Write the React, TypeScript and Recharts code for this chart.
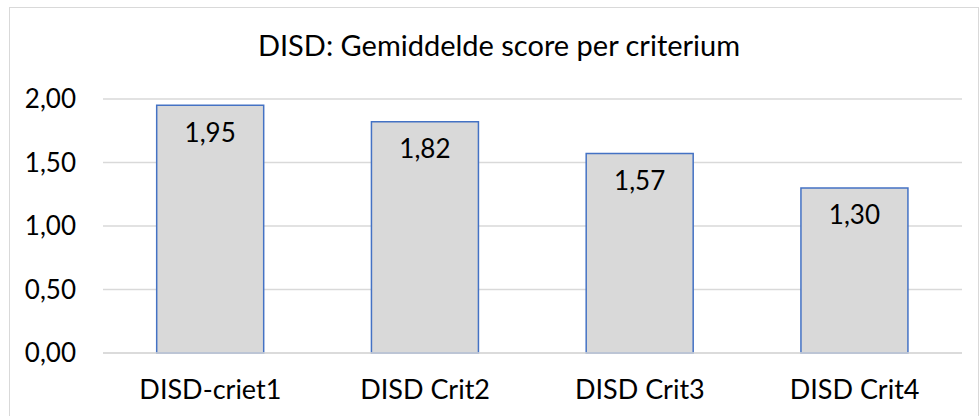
import React from "react"
import { BarChart, Bar, XAxis, YAxis, CartesianGrid, LabelList } from "recharts"

const categories = ["DISD-criet1", "DISD Crit2", "DISD Crit3", "DISD Crit4"]
const scores = [1.95, 1.82, 1.57, 1.3]
const yTicks = [0, 0.5, 1, 1.5, 2]

const data = categories.map((name, i) => ({ name, score: scores[i] }))

const fmt = (v: number) => v.toFixed(2).replace(".", ",")
const FONT = "'Lato', 'Open Sans', sans-serif"

export default function App() {
  return (
    <div
      style={{
        position: "absolute",
        left: 0,
        top: 0,
        width: 979,
        height: 416,
        background: "#fff",
        overflow: "hidden",
        fontFamily: FONT,
      }}
    >
      <div
        style={{
          position: "absolute",
          left: 9,
          top: 7,
          width: 970,
          height: 420,
          border: "1.5px solid #d9d9d9",
          boxSizing: "border-box",
        }}
      />
      <div
        style={{
          position: "absolute",
          left: 0,
          width: 998,
          top: 27,
          textAlign: "center",
          fontSize: 29,
          color: "#000",
        }}
      >
        DISD: Gemiddelde score per criterium
      </div>
      <div style={{ position: "absolute", left: 0, top: 0 }}>
        <BarChart
          width={979}
          height={416}
          data={data}
          margin={{ top: 99, right: 17, bottom: 0, left: 0 }}
          barCategoryGap="25%"
        >
          <CartesianGrid vertical={false} stroke="#d9d9d9" strokeWidth={1.5} />
          <XAxis
            dataKey="name"
            height={63}
            axisLine={{ stroke: "#d9d9d9", strokeWidth: 1.5 }}
            tickLine={false}
            tickMargin={21}
            tick={{ fontSize: 27, fill: "#000", fontFamily: FONT }}
          />
          <YAxis
            width={103}
            domain={[0, 2]}
            ticks={yTicks}
            tickFormatter={fmt}
            axisLine={false}
            tickLine={false}
            tickMargin={21}
            tick={{ fontSize: 26, fill: "#000", fontFamily: FONT }}
          />
          <Bar
            dataKey="score"
            fill="#d9d9d9"
            stroke="#4472c4"
            strokeWidth={1.5}
            isAnimationActive={false}
          >
            <LabelList
              dataKey="score"
              position="insideTop"
              offset={18}
              formatter={(v: any) => fmt(Number(v))}
              style={{ fontSize: 26, fill: "#000", fontFamily: FONT }}
            />
          </Bar>
        </BarChart>
      </div>
    </div>
  )
}
